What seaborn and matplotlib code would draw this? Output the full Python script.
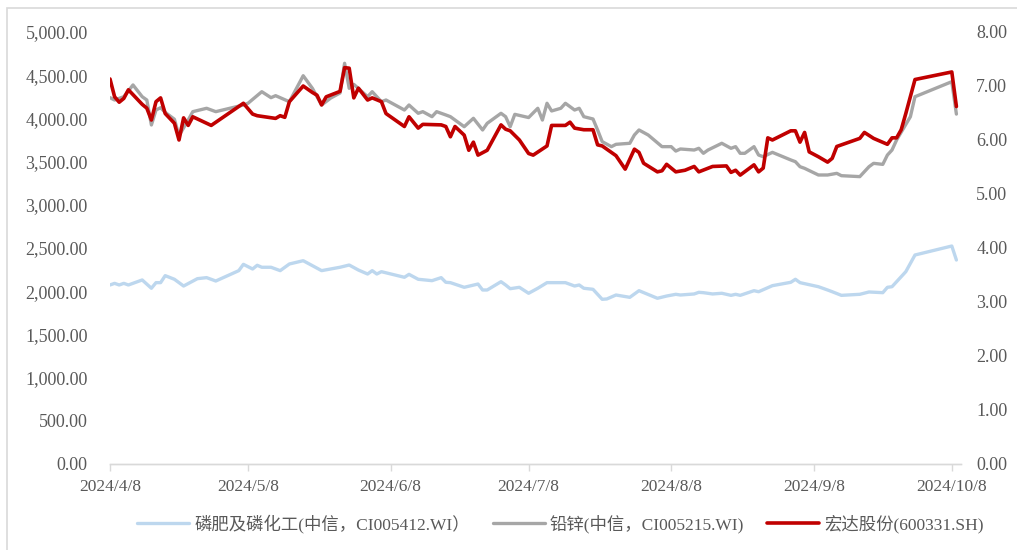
import matplotlib
matplotlib.use("Agg")
import matplotlib.pyplot as plt
import matplotlib.ticker as mticker
from matplotlib.patches import Rectangle
import numpy as np
import pandas as pd
import seaborn as sns

# ---------------- data ----------------
START = "2024-04-08"

# 磷肥及磷化工(中信) - left axis
blue_days = [0, 1, 2, 3, 4, 7, 9, 10, 11, 12, 14, 16, 19, 21, 23, 28, 29, 31, 32, 33,
             35, 37, 39, 42, 46, 50, 52, 54, 56, 57, 58, 59, 64, 65, 67, 70, 72, 73, 74, 77,
             80, 81, 82, 85, 86, 87, 89, 91, 93, 95, 99, 101, 102, 103, 105, 107, 108, 110, 113, 115,
             119, 121, 123, 124, 127, 128, 129, 131, 133, 135, 136, 137, 140, 141, 144, 148, 149, 150, 154, 156,
             157, 159, 163, 165, 168, 169, 170, 171, 173, 175, 183, 184]
blue_vals = [2072, 2091, 2072, 2091, 2072, 2130, 2034, 2099, 2099, 2180, 2138, 2060, 2145, 2157, 2118, 2238, 2311, 2257, 2300, 2277,
             2277, 2238, 2315, 2353, 2238, 2277, 2303, 2245, 2199, 2238, 2199, 2226, 2161, 2195, 2138, 2122, 2157, 2103, 2099, 2045,
             2083, 2014, 2014, 2110, 2072, 2029, 2045, 1976, 2034, 2099, 2099, 2060, 2072, 2034, 2022, 1906, 1910, 1956, 1929, 2006,
             1918, 1944, 1964, 1956, 1968, 1987, 1983, 1968, 1976, 1952, 1964, 1952, 2006, 1994, 2064, 2103, 2138, 2099, 2052, 2014,
             1994, 1952, 1964, 1991, 1983, 2045, 2052, 2110, 2226, 2419, 2523, 2361]

# 铅锌(中信) - left axis
gray_days = [0, 1, 3, 5, 7, 8, 9, 10, 11, 12, 14, 15, 17, 18, 21, 23, 29, 30, 33, 35,
             36, 39, 42, 44, 46, 48, 50, 51, 52, 53, 56, 57, 59, 60, 64, 65, 67, 68, 70, 71,
             73, 74, 77, 79, 81, 82, 85, 86, 87, 88, 91, 93, 94, 95, 96, 98, 99, 101, 102, 103,
             105, 106, 107, 109, 110, 113, 114, 115, 117, 120, 122, 123, 124, 127, 128, 129, 130, 133, 135, 136,
             137, 138, 140, 141, 142, 144, 148, 149, 150, 151, 154, 156, 158, 159, 163, 165, 166, 168, 169, 170,
             171, 174, 175, 183, 184]
gray_vals = [4240, 4213, 4251, 4387, 4251, 4213, 3924, 4097, 4124, 4070, 3990, 3800, 3981, 4078, 4117, 4078, 4155, 4175, 4309, 4240,
             4263, 4193, 4494, 4348, 4155, 4236, 4294, 4638, 4348, 4394, 4251, 4309, 4193, 4213, 4097, 4155, 4059, 4078, 4020, 4078,
             4040, 4020, 3904, 4001, 3866, 3943, 4059, 4020, 3904, 4047, 4010, 4117, 3981, 4175, 4086, 4117, 4175, 4097, 4117, 4020,
             3993, 3866, 3731, 3673, 3700, 3712, 3808, 3866, 3808, 3673, 3673, 3622, 3646, 3634, 3654, 3596, 3634, 3712, 3654, 3673,
             3596, 3596, 3673, 3576, 3557, 3607, 3519, 3499, 3441, 3422, 3345, 3345, 3364, 3337, 3326, 3441, 3480, 3468, 3576, 3634,
             3750, 4020, 4251, 4425, 4050]

# 宏达股份(600331.SH) - right axis
red_days = [0, 1, 2, 3, 4, 7, 8, 9, 10, 11, 12, 14, 15, 16, 17, 18, 22, 29, 31, 32,
            36, 37, 38, 39, 42, 44, 45, 46, 47, 50, 51, 52, 53, 54, 56, 57, 59, 60, 64, 65,
            67, 68, 72, 73, 74, 75, 77, 78, 79, 80, 82, 85, 86, 87, 89, 91, 92, 95, 96, 99,
            100, 101, 103, 105, 106, 107, 110, 112, 114, 115, 116, 119, 120, 121, 123, 125, 127, 128, 131, 134,
            135, 136, 137, 140, 141, 142, 143, 144, 148, 149, 150, 151, 152, 154, 156, 157, 158, 163, 164, 166,
            169, 170, 171, 172, 173, 175, 183, 184]
red_vals = [7.13, 6.80, 6.70, 6.77, 6.93, 6.66, 6.59, 6.37, 6.71, 6.78, 6.49, 6.31, 6.00, 6.41, 6.27, 6.43, 6.27, 6.68, 6.48, 6.45,
            6.40, 6.45, 6.42, 6.71, 7.00, 6.88, 6.83, 6.65, 6.80, 6.90, 7.34, 7.33, 6.78, 6.96, 6.74, 6.78, 6.71, 6.49, 6.25, 6.43,
            6.22, 6.29, 6.28, 6.25, 6.06, 6.25, 6.09, 5.81, 5.96, 5.72, 5.81, 6.28, 6.20, 6.17, 6.00, 5.75, 5.72, 5.89, 6.27, 6.27,
            6.33, 6.22, 6.19, 6.19, 5.91, 5.89, 5.71, 5.46, 5.83, 5.77, 5.57, 5.41, 5.43, 5.55, 5.41, 5.44, 5.51, 5.41, 5.51, 5.52,
            5.40, 5.44, 5.35, 5.54, 5.41, 5.48, 6.04, 6.00, 6.17, 6.17, 5.96, 6.14, 5.78, 5.69, 5.59, 5.66, 5.88, 6.03, 6.14, 6.03,
            5.92, 6.04, 6.04, 6.19, 6.49, 7.12, 7.26, 6.62]

series_names = ["磷肥及磷化工(中信，CI005412.WI）", "铅锌(中信，CI005215.WI)", "宏达股份(600331.SH)"]
x_tick_dates = ["2024-04-08", "2024-05-08", "2024-06-08", "2024-07-08", "2024-08-08", "2024-09-08", "2024-10-08"]
x_tick_labels = ["2024/4/8", "2024/5/8", "2024/6/8", "2024/7/8", "2024/8/8", "2024/9/8", "2024/10/8"]
left_ticks = [0, 500, 1000, 1500, 2000, 2500, 3000, 3500, 4000, 4500, 5000]
right_ticks = [0, 1, 2, 3, 4, 5, 6, 7, 8]

# ---------------- build frames ----------------
t0 = pd.Timestamp(START)
def frame(days, vals):
    return pd.DataFrame({"date": t0 + pd.to_timedelta(days, unit="D"), "value": vals})

df_blue = frame(blue_days, blue_vals)
df_gray = frame(gray_days, gray_vals)
df_red = frame(red_days, red_vals)

# ---------------- style ----------------
sns.set_theme(style="white")
plt.rcParams["font.family"] = ["Liberation Serif", "Noto Sans CJK SC", "DejaVu Sans"]

C_BLUE = "#bdd7ee"
C_GRAY = "#a6a6a6"
C_RED = "#c00000"
TXT = "#595959"

fig = plt.figure(figsize=(10.17, 5.5), dpi=100)
ax = fig.add_axes([110 / 1017, 1 - 464 / 550, (961 - 110) / 1017, (464 - 32) / 550])
ax2 = ax.twinx()

sns.lineplot(data=df_blue, x="date", y="value", ax=ax, color=C_BLUE, lw=2.4, label=series_names[0], legend=False)
sns.lineplot(data=df_gray, x="date", y="value", ax=ax, color=C_GRAY, lw=2.4, label=series_names[1], legend=False)
sns.lineplot(data=df_red, x="date", y="value", ax=ax2, color=C_RED, lw=2.6, label=series_names[2], legend=False)

ax.set_ylim(0, 5000)
ax2.set_ylim(0, 8)
ax.set_xlim(t0, t0 + pd.Timedelta(days=185))
ax.set_yticks(left_ticks)
ax2.set_yticks(right_ticks)
ax.yaxis.set_major_formatter(mticker.FuncFormatter(lambda v, p: f"{v:,.2f}"))
ax2.yaxis.set_major_formatter(mticker.FuncFormatter(lambda v, p: f"{v:,.2f}"))
ax.set_xticks(pd.to_datetime(x_tick_dates))
ax.set_xticklabels(x_tick_labels)

for a in (ax, ax2):
    a.set_xlabel("")
    a.set_ylabel("")
    a.grid(False)
    for s in ("left", "right", "top"):
        a.spines[s].set_visible(False)
    a.spines["bottom"].set_color("#d9d9d9")
    a.spines["bottom"].set_linewidth(1.0)

ax.tick_params(axis="y", length=0, pad=16, labelsize=13, labelcolor=TXT)
ax2.tick_params(axis="y", length=0, pad=11, labelsize=13, labelcolor=TXT)
ax.tick_params(axis="x", length=5, width=1, color="#d9d9d9", direction="out",
               pad=6, labelsize=12.5, labelcolor=TXT, bottom=True)

# legend at the bottom
h1, l1 = ax.get_legend_handles_labels()
h2, l2 = ax2.get_legend_handles_labels()
fig.legend(h1 + h2, l1 + l2, loc="center", bbox_to_anchor=(0.551, 1 - 524 / 550), ncol=3,
           frameon=False, fontsize=12.5, handlelength=3.0, handletextpad=0.3, columnspacing=1.3,
           labelcolor=TXT)

# outer frame
fig.patches.append(Rectangle((7 / 1017, -0.05), 1.1, 1 - 8 / 550 + 0.05, transform=fig.transFigure,
                             fill=False, edgecolor="#d9d9d9", lw=1.2))

fig.savefig("out.png", dpi=100)
